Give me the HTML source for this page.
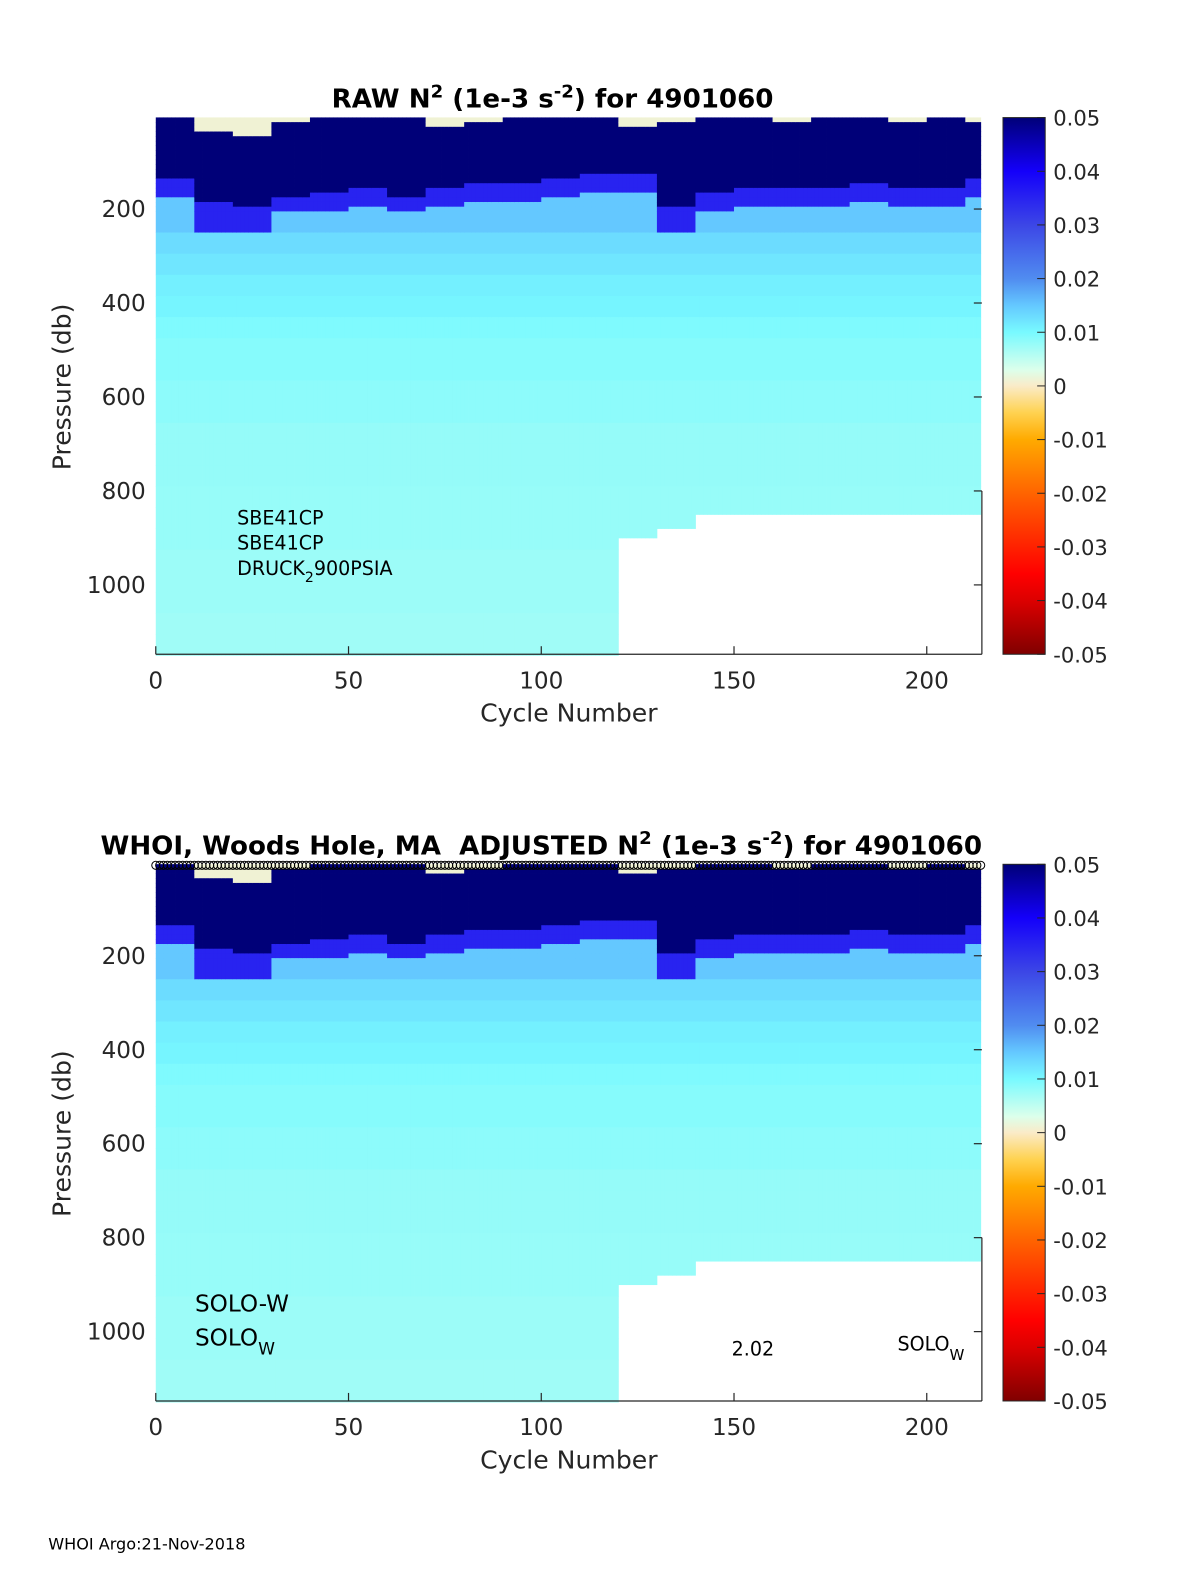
<!DOCTYPE html>
<html><head><meta charset="utf-8"><style>
html,body{margin:0;padding:0;background:#fff;overflow:hidden;width:1200px;height:1575px}
svg{display:block}
svg text{font-family:"DejaVu Sans","Liberation Sans",sans-serif;fill:#262626}
</style></head><body>
<svg id="fig" width="1200" height="1575" viewBox="0 0 1200 1575" xmlns="http://www.w3.org/2000/svg">
<defs>
<linearGradient id="cmap" x1="0" y1="1" x2="0" y2="0">
<stop offset="0" stop-color="rgb(128,0,0)"/><stop offset="0.1" stop-color="rgb(220,0,0)"/><stop offset="0.15" stop-color="rgb(255,0,0)"/>
<stop offset="0.3" stop-color="rgb(255,100,0)"/><stop offset="0.4" stop-color="rgb(255,170,0)"/><stop offset="0.45" stop-color="rgb(255,210,80)"/>
<stop offset="0.5" stop-color="rgb(250,235,200)"/><stop offset="0.53" stop-color="rgb(220,255,235)"/><stop offset="0.6" stop-color="rgb(120,250,255)"/>
<stop offset="0.65" stop-color="rgb(100,200,255)"/><stop offset="0.7" stop-color="rgb(80,140,240)"/><stop offset="0.8" stop-color="rgb(60,70,230)"/>
<stop offset="0.9" stop-color="rgb(20,0,250)"/><stop offset="1" stop-color="rgb(0,0,120)"/>
</linearGradient>
</defs>
<g transform="scale(1.005)">
<g id="p0"></g>
<g id="p1"></g>
<text x="330" y="107" font-size="26" font-weight="bold" style="fill:#000">RAW N<tspan dy="-10" font-size="18">2</tspan><tspan dy="10"> (1e-3 s</tspan><tspan dy="-10" font-size="18">-2</tspan><tspan dy="10">) for 4901060</tspan></text>
<text x="100" y="850" font-size="26" font-weight="bold" style="fill:#000">WHOI, Woods Hole, MA&#160; ADJUSTED N<tspan dy="-10" font-size="18">2</tspan><tspan dy="10"> (1e-3 s</tspan><tspan dy="-10" font-size="18">-2</tspan><tspan dy="10">) for 4901060</tspan></text>
<text x="236" y="522" font-size="19" style="fill:#000">SBE41CP</text>
<text x="236" y="547" font-size="19" style="fill:#000">SBE41CP</text>
<text x="236" y="572" font-size="19" style="fill:#000">DRUCK<tspan dy="7" font-size="14">2</tspan><tspan dy="-7">900PSIA</tspan></text>
<text x="194" y="1305" font-size="23" style="fill:#000">SOLO-W</text>
<text x="194" y="1339" font-size="23" style="fill:#000">SOLO<tspan dy="9" font-size="17">W</tspan></text>
<text x="728" y="1349" font-size="19" style="fill:#000">2.02</text>
<text x="893" y="1344" font-size="19" style="fill:#000">SOLO<tspan dy="9" font-size="15">W</tspan></text>
<text x="48" y="1542" font-size="16" style="fill:#000">WHOI Argo:21-Nov-2018</text>
</g>
</svg>
<script>
// data (per 10-cycle segment)
const segStarts = [0,10,20,30,40,50,60,70,80,90,100,110,120,130,140,150,160,170,180,190,200,210];
const mixedLayerDb = [5,40,50,15,10,10,5,30,20,5,10,5,25,15,5,10,15,10,5,15,10,20];
const thermoBaseDb = [175,230,240,220,210,200,215,200,190,190,180,170,170,240,210,200,200,200,190,200,200,180];
const maxDepthDb = [1150,1150,1150,1150,1150,1150,1150,1150,1150,1150,1150,1150,900,880,850,850,850,850,850,850,850,850];
const depthEdges = [5,15,25,35,45,55,65,75,85,95,105,115,125,135,145,155,165,175,185,195,205,250,295,340,385,430,475,520,565,610,655,700,745,790,835,880,925,970,1015,1060,1105,1150];
const deepValues = [0.015,0.013,0.012,0.011,0.0105,0.0095,0.009,0.009,0.0085,0.0085,0.008,0.008,0.008,0.0078,0.0078,0.0078,0.0075,0.0075,0.0075,0.0072,0.0072];
const nCycles = 214;
const xTicks = [0,50,100,150,200];
const yTicks = [200,400,600,800,1000];
const cbTicks = [0.05,0.04,0.03,0.02,0.01,0,-0.01,-0.02,-0.03,-0.04,-0.05];

const stops=[[-0.05,128,0,0],[-0.04,220,0,0],[-0.035,255,0,0],[-0.02,255,100,0],[-0.01,255,170,0],[-0.005,255,210,80],[0,250,235,200],[0.003,220,255,235],[0.01,120,250,255],[0.015,100,200,255],[0.02,80,140,240],[0.03,60,70,230],[0.04,20,0,250],[0.05,0,0,120]];
function cmap(v){v=Math.max(-0.05,Math.min(0.05,v));for(let i=1;i<stops.length;i++){if(v<=stops[i][0]){const a=stops[i-1],b=stops[i],t=(v-a[0])/(b[0]-a[0]);return `rgb(${Math.round(a[1]+t*(b[1]-a[1]))},${Math.round(a[2]+t*(b[2]-a[2]))},${Math.round(a[3]+t*(b[3]-a[3]))})`;}}return 'rgb(0,0,120)';}
const NS='http://www.w3.org/2000/svg';
function mk(tag,attrs,parent){const e=document.createElementNS(NS,tag);for(const k in attrs)e.setAttribute(k,attrs[k]);parent.appendChild(e);return e;}
const X0=155,X1=977,xs=c=>X0+c*(X1-X0)/214.3;
function drawPanel(g,oy,markers){
  const ys=p=>oy+114.5+p*0.4675;
  const heat=mk('g',{},g);
  
  
  for(let c=1;c<=nCycles;c++){
    const s=Math.min(segStarts.length-1,Math.floor((c-1)/10));
    for(let r=0;r<depthEdges.length-1;r++){
      const p0=depthEdges[r],p1=depthEdges[r+1],pm=(p0+p1)/2;
      if(p0>=maxDepthDb[s])continue;
      let v;
      if(pm<mixedLayerDb[s])v=0.001;
      else if(pm<thermoBaseDb[s]-40)v=0.05;
      else if(pm<thermoBaseDb[s])v=0.035;
      else{let k=Math.floor((pm-200)/45);k=Math.max(0,Math.min(deepValues.length-1,k));v=deepValues[k];}
      const rc=mk('rect',{x:xs(c-1).toFixed(2),y:ys(p0).toFixed(2),width:(xs(c)-xs(c-1)+0.4).toFixed(2),height:(ys(Math.min(p1,maxDepthDb[s]))-ys(p0)+0.4).toFixed(2),fill:cmap(v)},heat);
      
      
    }
  }
  const top=oy+117,bot=oy+651;
  const ax=mk('g',{stroke:'#262626','stroke-width':1.2,fill:'none'},g);
  
  
  mk('line',{x1:X0,y1:bot,x2:X1,y2:bot},ax);
  mk('line',{x1:X1,y1:ys(800),x2:X1,y2:bot},ax);
  xTicks.forEach(t=>{
    mk('line',{x1:xs(t),y1:bot,x2:xs(t),y2:bot-8},ax);
    const tx=mk('text',{x:xs(t),y:bot+34,'font-size':23,'text-anchor':'middle'},g);tx.textContent=t;
    
    
  });
  yTicks.forEach(t=>{
    mk('line',{x1:X1,y1:ys(t),x2:X1-8,y2:ys(t)},ax);
    const tx=mk('text',{x:145,y:ys(t)+8,'font-size':23,'text-anchor':'end'},g);tx.textContent=t;
    
    
  });
  const xl=mk('text',{x:566,y:bot+67,'font-size':25,'text-anchor':'middle'},g);xl.textContent='Cycle Number';
  
  
  const yl=mk('text',{x:70,y:oy+385,'font-size':25,'text-anchor':'middle',transform:`rotate(-90 70 ${oy+385})`},g);yl.textContent='Pressure (db)';
  
  
  const cb=mk('rect',{x:998,y:top,width:42,height:534,fill:'url(#cmap)',stroke:'#262626','stroke-width':1},g);
  
  
  cbTicks.forEach(t=>{
    const y=top+(0.05-t)/0.1*534;
    mk('line',{x1:1032,y1:y,x2:1040,y2:y,stroke:'#262626'},g);
    const tx=mk('text',{x:1048,y:y+8,'font-size':21},g);tx.textContent=t;
    
    
  });
  if(markers){
    const mg=mk('g',{fill:'none',stroke:'#000','stroke-width':1},g);
    
    
    for(let c=0;c<=nCycles;c++){
      const m=mk('circle',{cx:xs(c),cy:top+1,r:4},mg);
      
      
    }
  }
}
drawPanel(document.getElementById('p0'),0,false);
drawPanel(document.getElementById('p1'),743,true);
</script>
</body></html>
